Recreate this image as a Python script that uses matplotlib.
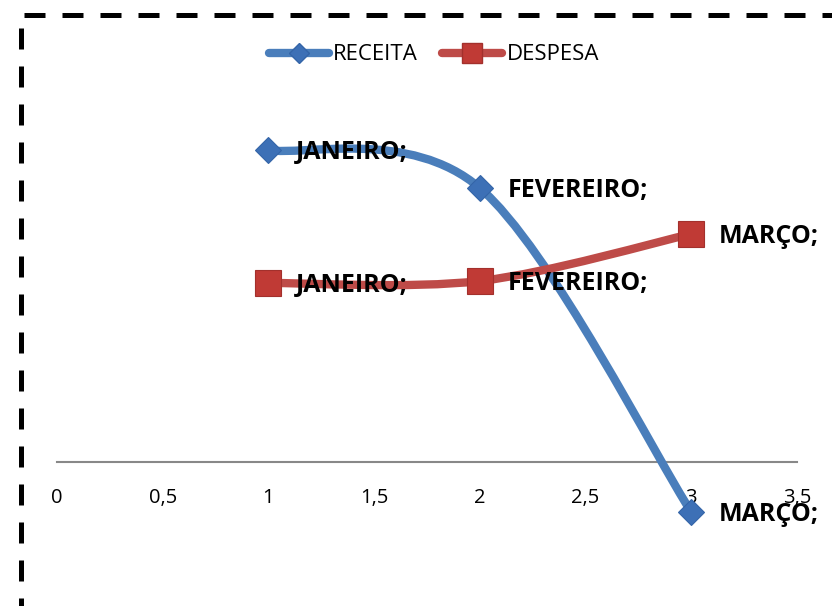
import matplotlib.pyplot as plt
import numpy as np
from matplotlib.path import Path
from matplotlib.patches import PathPatch
from matplotlib.lines import Line2D
from matplotlib.ticker import FuncFormatter

# dados
meses = ['JANEIRO', 'FEVEREIRO', 'MARÇO']
x_meses = [1, 2, 3]
receita = [3120, 2740, -500]
despesa = [1790, 1810, 2280]
x_ticks = [0, 0.5, 1, 1.5, 2, 2.5, 3, 3.5]

plt.rcParams['font.family'] = ['Open Sans', 'DejaVu Sans']

COR_REC = '#4A7EBB'
COR_REC_MK = '#3D70B6'
COR_DESP = '#BE4B48'
COR_DESP_MK = '#C03A35'


def curva_suave(xs, ys):
    # bezier estilo excel (catmull-rom)
    p = np.column_stack([xs, ys]).astype(float)
    n = len(p)
    verts = [p[0]]
    codes = [Path.MOVETO]
    for i in range(n - 1):
        p0 = p[i - 1] if i > 0 else p[i]
        p1 = p[i]
        p2 = p[i + 1]
        p3 = p[i + 2] if i + 2 < n else p[i + 1]
        c1 = p1 + (p2 - p0) / 6.0
        c2 = p2 - (p3 - p1) / 6.0
        verts += [c1, c2, p2]
        codes += [Path.CURVE4] * 3
    return Path(verts, codes)


fig = plt.figure(figsize=(8.32, 6.06), dpi=100)
ax = fig.add_axes([57 / 832, 0, 740 / 832, 1])
ax.set_xlim(0, 3.5)
ax.set_ylim(-1440, 4620)

for ys, cor in [(receita, COR_REC), (despesa, COR_DESP)]:
    ax.add_patch(PathPatch(curva_suave(x_meses, ys), fill=False, edgecolor=cor,
                           lw=6, capstyle='round', joinstyle='round', zorder=3))

ax.plot(x_meses, receita, ls='none', marker='D', ms=13.5, color=COR_REC_MK,
        mec='#3465A8', mew=0.8, zorder=4)
ax.plot(x_meses, despesa, ls='none', marker='s', ms=18.5, color=COR_DESP_MK,
        mec='#A3302C', mew=0.8, zorder=4)

for serie in [receita, despesa]:
    for xm, ym, nome in zip(x_meses, serie, meses):
        ax.annotate(nome + ';', (xm, ym), xytext=(20, -2), textcoords='offset points',
                    ha='left', va='center', fontsize=18, fontweight='bold',
                    color='black', zorder=5)

for s in ['top', 'right', 'left']:
    ax.spines[s].set_visible(False)
ax.spines['bottom'].set_position(('data', 0))
ax.spines['bottom'].set_color('#888888')
ax.spines['bottom'].set_linewidth(1.5)
ax.set_yticks([])
ax.set_xticks(x_ticks)
ax.xaxis.set_major_formatter(FuncFormatter(lambda v, p: ('%g' % v).replace('.', ',')))
ax.tick_params(axis='x', length=0, pad=19, labelsize=14.5, labelcolor='black')

handles = [
    Line2D([], [], color=COR_REC, lw=6, solid_capstyle='round', marker='D', ms=10,
           mfc=COR_REC_MK, mec='#3465A8'),
    Line2D([], [], color=COR_DESP, lw=6, solid_capstyle='round', marker='s', ms=14,
           mfc=COR_DESP_MK, mec='#A3302C'),
]
fig.legend(handles, ['RECEITA', 'DESPESA'], loc='center', bbox_to_anchor=(434 / 832, 1 - 55 / 606),
           ncol=2, frameon=False, fontsize=16, handlelength=2.7, handletextpad=0.2,
           columnspacing=1.1, numpoints=1)

# borda tracejada
fig.add_artist(Line2D([24 / 832, 1], [1 - 15 / 606, 1 - 15 / 606], transform=fig.transFigure,
                      color='black', lw=3.6, linestyle=(0, (4.2, 3.4)), solid_capstyle='butt',
                      dash_capstyle='butt'))
fig.add_artist(Line2D([20.5 / 832, 20.5 / 832], [1 - 28 / 606, 0], transform=fig.transFigure,
                      color='black', lw=3.6, linestyle=(0, (4.2, 3.4)), dash_capstyle='butt'))

fig.savefig('out.png', dpi=100, facecolor='white')
